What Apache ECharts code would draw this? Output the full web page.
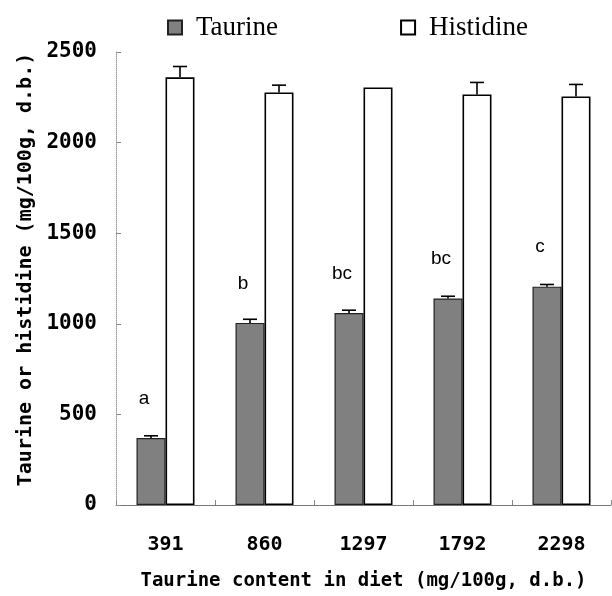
<!DOCTYPE html>
<html>
<head>
<meta charset="utf-8">
<script src="https://cdn.jsdelivr.net/npm/echarts@6/dist/echarts.min.js"></script>
<style>
html,body{margin:0;padding:0;background:#fff;}
#chart{width:612px;height:596px;}
</style>
</head>
<body>
<div id="chart"></div>
<script>
const categories = ['391', '860', '1297', '1792', '2298'];
const taurine = [370, 1005, 1060, 1140, 1205];
const taurineSD = [12, 20, 15, 12, 12];
const histidine = [2360, 2277, 2304, 2266, 2255];
const histidineSD = [60, 40, 0, 66, 66];
const sigLetters = ['a', 'b', 'bc', 'bc', 'c'];
const yTicks = [0, 500, 1000, 1500, 2000, 2500];

const BAR_W = 29;
const monoFont = 'DejaVu Sans Mono';

function errorSeries(values, sds, side) {
  return {
    type: 'custom',
    z: 5,
    silent: true,
    data: values.map((v, i) => [i, v, v + sds[i]]),
    renderItem: function (params, api) {
      const i = api.value(0);
      const top = api.coord([i, api.value(1)]);
      const hi = api.coord([i, api.value(2)]);
      if (api.value(2) - api.value(1) <= 0) return null;
      const x = top[0] + side * BAR_W / 2;
      const capHalf = 7;
      return {
        type: 'group',
        children: [
          { type: 'line', shape: { x1: x, y1: top[1], x2: x, y2: hi[1] }, style: { stroke: '#000', lineWidth: 1.6 } },
          { type: 'line', shape: { x1: x - capHalf, y1: hi[1], x2: x + capHalf, y2: hi[1] }, style: { stroke: '#000', lineWidth: 1.6 } }
        ]
      };
    }
  };
}

const chart = echarts.init(document.getElementById('chart'), null, { renderer: 'canvas' });
chart.setOption({
  animation: false,
  backgroundColor: '#fff',
  legend: {
    top: 9,
    left: 162,
    itemGap: 122,
    itemWidth: 14,
    itemHeight: 14,
    icon: 'rect',
    textStyle: { fontFamily: 'Liberation Serif', fontSize: 27, color: '#000', padding: [0, 0, 0, 9] },
    data: ['Taurine', 'Histidine']
  },
  grid: { left: 116, right: 1, top: 52, bottom: 84 },
  xAxis: {
    type: 'category',
    data: categories,
    name: 'Taurine content in diet (mg/100g, d.b.)',
    nameLocation: 'middle',
    nameGap: 67,
    nameTextStyle: { fontFamily: monoFont, fontWeight: 'bold', fontSize: 19, color: '#000' },
    axisLine: { lineStyle: { color: '#777', width: 1 } },
    axisTick: { show: true, inside: true, length: 5, lineStyle: { color: '#888' } },
    axisLabel: { margin: 30, fontFamily: monoFont, fontWeight: 'bold', fontSize: 20, color: '#000' }
  },
  yAxis: {
    type: 'value',
    min: yTicks[0],
    max: yTicks[yTicks.length - 1],
    interval: 500,
    name: 'Taurine or histidine (mg/100g, d.b.)',
    nameLocation: 'middle',
    nameGap: 72,
    nameTextStyle: { fontFamily: monoFont, fontWeight: 'bold', fontSize: 20, color: '#000', padding: [0, 0, 0, 18] },
    axisLine: { show: true, lineStyle: { color: '#999', width: 1, type: 'dotted' } },
    axisTick: { show: true, inside: true, length: 5, lineStyle: { color: '#888' } },
    splitLine: { show: false },
    axisLabel: { margin: 19, formatter: v => String(v), fontFamily: monoFont, fontWeight: 'bold', fontSize: 21, color: '#000' }
  },
  series: [
    {
      name: 'Taurine',
      type: 'bar',
      barWidth: BAR_W,
      barGap: '0%',
      data: taurine,
      itemStyle: { color: '#808080', borderColor: '#222', borderWidth: 1.2 },
      label: {
        show: true,
        position: 'top',
        distance: 30,
        offset: [-7, 0],
        formatter: p => sigLetters[p.dataIndex],
        fontFamily: 'Liberation Sans',
        fontSize: 19,
        color: '#000'
      }
    },
    {
      name: 'Histidine',
      type: 'bar',
      barWidth: BAR_W,
      barGap: '0%',
      data: histidine,
      itemStyle: { color: '#fff', borderColor: '#000', borderWidth: 1.6 }
    },
    errorSeries(taurine, taurineSD, -1),
    errorSeries(histidine, histidineSD, 1)
  ]
});
</script>
</body>
</html>
